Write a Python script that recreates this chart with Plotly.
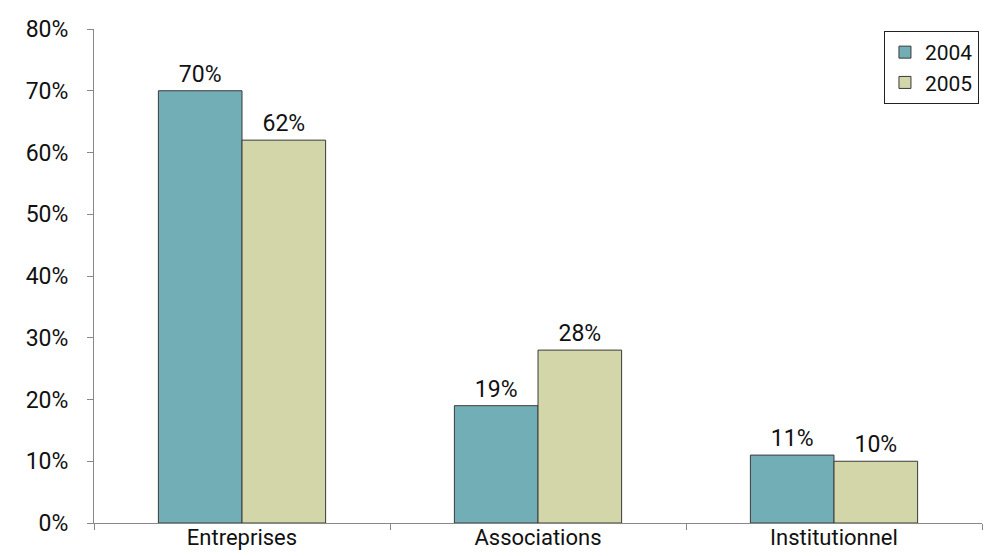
import plotly.graph_objects as go

categories = ["Entreprises", "Associations", "Institutionnel"]
values_2004 = [0.70, 0.19, 0.11]
values_2005 = [0.62, 0.28, 0.10]
series_names = ["2004", "2005"]
y_ticks = [0, 0.1, 0.2, 0.3, 0.4, 0.5, 0.6, 0.7, 0.8]

FONT = "Roboto"
SIZE = 23
colors = ["#72AEB6", "#D3D6A9"]

fig = go.Figure()
for name, vals, col in zip(series_names, [values_2004, values_2005], colors):
    fig.add_trace(go.Bar(
        name=name,
        x=categories,
        y=vals,
        marker=dict(color=col, line=dict(color="#3a3a3a", width=1)),
        text=[f"{round(v * 100)}%" for v in vals],
        textposition="outside",
        textfont=dict(family=FONT, size=SIZE, color="#111111"),
        cliponaxis=False,
    ))

fig.update_layout(
    width=984,
    height=556,
    margin=dict(l=94, r=2, t=29, b=33),
    paper_bgcolor="white",
    plot_bgcolor="white",
    barmode="group",
    bargap=0.435,
    bargroupgap=0,
    font=dict(family=FONT, size=SIZE, color="#111111"),
    showlegend=True,
    legend=dict(
        x=0.8896, xanchor="left",
        y=0.996, yanchor="top",
        bordercolor="#222222", borderwidth=1,
        bgcolor="white",
        font=dict(family=FONT, size=21, color="#111111"),
        tracegroupgap=0,
        itemwidth=30,
    ),
    xaxis=dict(
        type="category",
        tickson="boundaries",
        ticks="outside",
        ticklen=6,
        tickcolor="#888888",
        ticklabelstandoff=-5,
        showline=True,
        linecolor="#888888",
        linewidth=1,
        showgrid=False,
        automargin=False,
        tickfont=dict(family=FONT, size=22, color="#111111"),
    ),
    yaxis=dict(
        range=[0, 0.8],
        tickvals=y_ticks,
        tickformat=".0%",
        ticks="outside",
        ticklen=6,
        tickcolor="#888888",
        ticklabelstandoff=14,
        showline=True,
        linecolor="#888888",
        linewidth=1,
        showgrid=False,
        zeroline=False,
        automargin=False,
        tickfont=dict(family=FONT, size=SIZE, color="#111111"),
    ),
)

fig.write_html("out.html")
